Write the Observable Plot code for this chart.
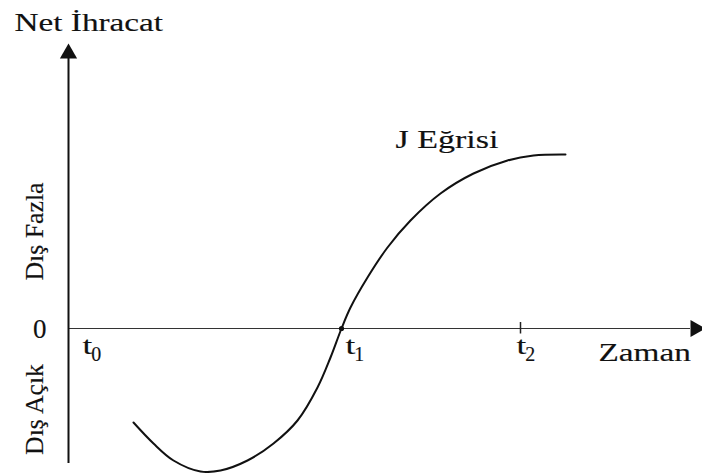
<!DOCTYPE html>
<html>
<head>
<meta charset="utf-8">
<script src="https://cdn.jsdelivr.net/npm/d3@7"></script>
<script src="https://cdn.jsdelivr.net/npm/@observablehq/plot@0.6"></script>
<style>
  html, body { margin: 0; padding: 0; background: #fff; }
  #chart svg { display: block; }
</style>
</head>
<body>
<div id="chart"></div>
<script>
// J-curve values (time units, net export units)
const curveX = [0.65, 0.85, 1.05, 1.32, 1.52, 1.79, 2.05, 2.29, 2.49, 2.62, 2.73, 2.82, 2.99, 3.19, 3.42, 3.72, 4.05, 4.39, 4.65, 4.97];
const curveY = [-0.94, -1.15, -1.32, -1.43, -1.42, -1.32, -1.15, -0.92, -0.59, -0.29, 0, 0.21, 0.51, 0.81, 1.08, 1.35, 1.55, 1.68, 1.73, 1.74];

// time labels
const tickNames = ["t", "t", "t"];
const tickSubs = ["0", "1", "2"];
const tickX = [0.14, 2.77, 4.48];
const t1Value = 2.73;
const t2Value = 4.52;

// axis extents
const xAxisEnd = 6.22;
const yAxisTop = 2.70;
const yAxisBottom = -1.35;

// texts
const yTitle = "Net İhracat";
const xTitle = "Zaman";
const curveTitle = "J Eğrisi";
const surplusLabel = "Dış Fazla";
const deficitLabel = "Dış Açık";
const zeroLabel = "0";

const curve = curveX.map((x, i) => ({x, y: curveY[i]}));
const ticks = tickX.map((x, i) => ({x, label: tickNames[i] + tickSubs[i]}));

const font = "'Liberation Serif', 'Times New Roman', serif";
const ink = {fill: "#111", stroke: "#111", strokeWidth: 0.15};

const chart = Plot.plot({
  width: 702,
  height: 473,
  margin: 0,
  x: {domain: [-0.68, 6.34], axis: null},
  y: {domain: [-1.45, 3.28], axis: null},
  style: {fontFamily: font, background: "#fff"},
  marks: [
    // x axis
    Plot.ruleY([0], {x1: 0, x2: xAxisEnd, stroke: "#333", strokeWidth: 1.2}),
    // y axis
    Plot.ruleX([0], {y1: yAxisBottom, y2: yAxisTop, stroke: "#111", strokeWidth: 2}),
    // arrow heads
    Plot.dot([{x: 0, y: 2.75}], {x: "x", y: "y", symbol: "triangle", r: 6.4, fill: "#111", stroke: "none"}),
    Plot.dot([{x: 6.27, y: 0}], {x: "x", y: "y", symbol: "triangle", r: 6.4, rotate: 90, fill: "#111", stroke: "none"}),
    // t2 tick
    Plot.ruleX([t2Value], {y1: -0.055, y2: 0.06, stroke: "#222", strokeWidth: 1.5}),
    // J curve
    Plot.line(curve, {x: "x", y: "y", curve: "catmull-rom", stroke: "#111", strokeWidth: 2}),
    // t1 point
    Plot.dot([{x: t1Value, y: 0}], {x: "x", y: "y", r: 2.6, fill: "#111", stroke: "none"}),
    // titles & labels
    Plot.text([yTitle], {x: -0.54, y: 2.98, text: d => d, textAnchor: "start", lineAnchor: "bottom", fontSize: 25, ...ink}),
    Plot.text([xTitle], {x: 5.30, y: -0.32, text: d => d, textAnchor: "start", lineAnchor: "bottom", fontSize: 26, ...ink}),
    Plot.text([curveTitle], {x: 3.27, y: 1.81, text: d => d, textAnchor: "start", lineAnchor: "bottom", fontSize: 25, ...ink}),
    Plot.text([zeroLabel], {x: -0.22, y: -0.09, text: d => d, textAnchor: "end", lineAnchor: "bottom", fontSize: 27, ...ink}),
    Plot.text([surplusLabel], {x: -0.255, y: 0.97, text: d => d, rotate: -90, textAnchor: "middle", lineAnchor: "bottom", fontSize: 25, ...ink}),
    Plot.text([deficitLabel], {x: -0.255, y: -0.81, text: d => d, rotate: -90, textAnchor: "middle", lineAnchor: "bottom", fontSize: 25, ...ink}),
    Plot.text(ticks, {x: "x", y: -0.25, text: "label", textAnchor: "start", lineAnchor: "bottom", fontSize: 26, ...ink})
  ]
});

document.getElementById("chart").appendChild(chart);

// typographic adjustments: subscripts and wide serif lettering
const stretch = {"Net İhracat": 1.33, "J Eğrisi": 1.36, "Zaman": 1.28, "Dış Fazla": 1.03, "Dış Açık": 1.03};
const NS = "http://www.w3.org/2000/svg";
chart.querySelectorAll("text").forEach(t => {
  const s = t.textContent;
  const m = /^t(\d)$/.exec(s);
  if (m) {
    t.textContent = "";
    const a = document.createElementNS(NS, "tspan");
    a.textContent = "t";
    t.appendChild(a);
    const b = document.createElementNS(NS, "tspan");
    b.textContent = m[1];
    b.setAttribute("font-size", "20");
    b.setAttribute("dy", "7");
    b.setAttribute("dx", "-1");
    t.appendChild(b);
    const la = a.getComputedTextLength();
    a.setAttribute("textLength", (la * 1.35).toFixed(1));
    a.setAttribute("lengthAdjust", "spacingAndGlyphs");
  } else if (stretch[s]) {
    const len = t.getComputedTextLength();
    t.setAttribute("textLength", (len * stretch[s]).toFixed(1));
    t.setAttribute("lengthAdjust", "spacingAndGlyphs");
  }
});
</script>
</body>
</html>
